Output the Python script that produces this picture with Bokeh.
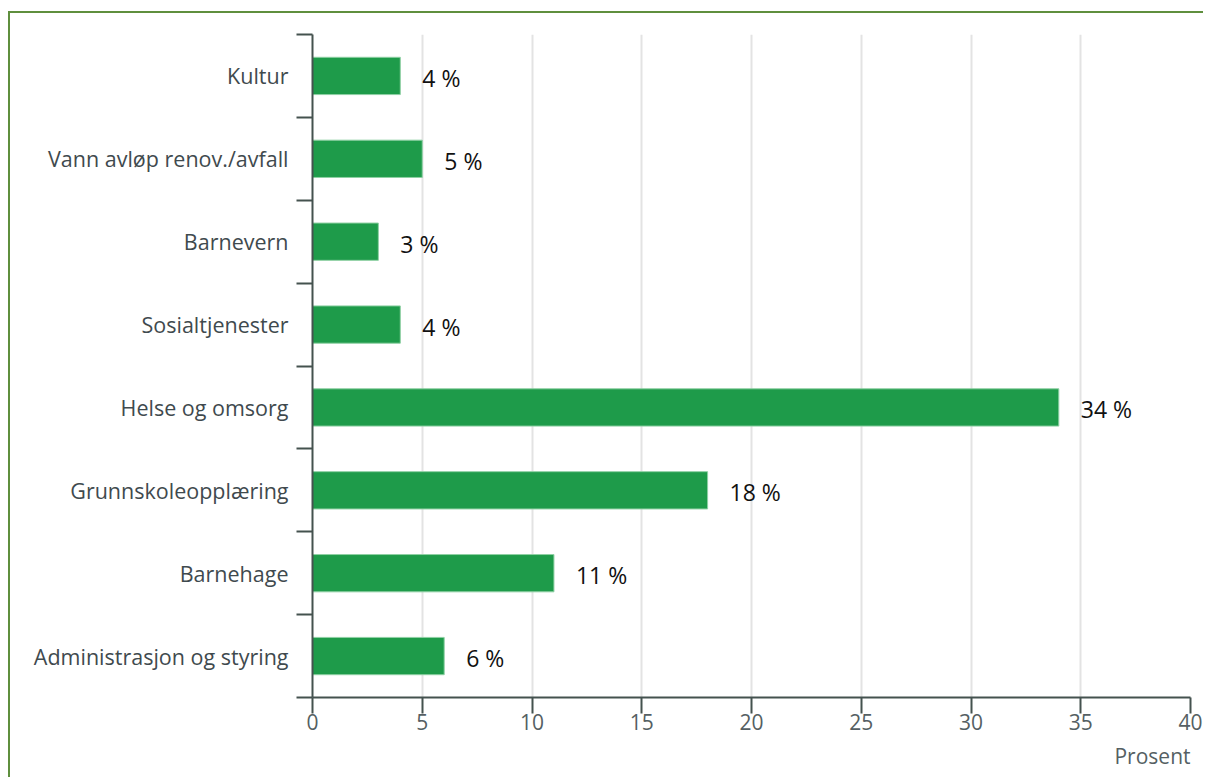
from bokeh.plotting import figure
from bokeh.models import FixedTicker, ColumnDataSource, Title, LabelSet
from bokeh.embed import file_html
from bokeh.resources import INLINE
from bokeh.core.properties import value

categories = ["Kultur", "Vann avløp renov./avfall", "Barnevern", "Sosialtjenester",
              "Helse og omsorg", "Grunnskoleopplæring", "Barnehage", "Administrasjon og styring"]
values = [4, 5, 3, 4, 34, 18, 11, 6]
x_ticks = [0, 5, 10, 15, 20, 25, 30, 35, 40]
x_label = "Prosent"

n = len(categories)
ypos = [n - i - 0.5 for i in range(n)]
labels = [f"{v} %" for v in values]
src = ColumnDataSource(dict(y=ypos, v=values, lab=labels))

FONT = "Open Sans"
AXIS_COLOR = "#44524f"
TICK_COLOR = "#555f63"

p = figure(width=1195, height=766, output_backend="svg", toolbar_location=None,
           x_range=(0, 40), y_range=(0, n),
           min_border_left=302, min_border_right=15, min_border_top=21, min_border_bottom=82,
           styles={"border-top": "2px solid #5f8f3e", "border-left": "2px solid #5f8f3e",
                   "margin-left": "8px", "margin-top": "11px"})
p.outline_line_color = None
p.background_fill_color = "white"
p.border_fill_color = "white"

p.hbar(y="y", right="v", left=0, height=0.45, source=src,
       fill_color="#1e9b4a", line_color="#8fd0a4", line_width=1)

p.add_layout(LabelSet(x="v", y="y", text="lab", source=src, x_offset=22, y_offset=-2,
                      text_baseline="middle", text_align="left",
                      text_font=value(FONT), text_font_size="23px", text_color="#111111"))

# x axis
xa = p.xaxis[0]
xa.ticker = FixedTicker(ticks=x_ticks)
xa.major_tick_out = 16
xa.major_tick_in = 0
xa.minor_tick_out = 0
xa.axis_line_color = AXIS_COLOR
xa.axis_line_width = 2
xa.major_tick_line_color = AXIS_COLOR
xa.major_tick_line_width = 2
xa.major_label_text_font = FONT
xa.major_label_text_font_size = "21px"
xa.major_label_text_color = TICK_COLOR
xa.major_label_standoff = 0

# y axis: labels at category centres, tick marks at boundaries
ya = p.yaxis[0]
ya.ticker = FixedTicker(ticks=ypos, minor_ticks=list(range(n + 1)))
ya.major_label_overrides = {y: c for y, c in zip(ypos, categories)}
ya.major_tick_out = 0
ya.major_tick_in = 0
ya.minor_tick_out = 16
ya.minor_tick_in = 0
ya.minor_tick_line_color = AXIS_COLOR
ya.minor_tick_line_width = 2
ya.axis_line_color = AXIS_COLOR
ya.axis_line_width = 2
ya.major_label_text_font = FONT
ya.major_label_text_font_size = "21.5px"
ya.major_label_text_color = "#3f4a4e"
ya.major_label_standoff = 8

p.xgrid.ticker = FixedTicker(ticks=x_ticks)
p.xgrid.grid_line_color = "#e3e3e3"
p.xgrid.grid_line_width = 2
p.ygrid.grid_line_color = None

p.add_layout(Title(text=x_label, align="right", text_font=FONT, text_font_size="21px",
                   text_font_style="normal", text_color=TICK_COLOR, standoff=15), "below")

open("out.html", "w").write(file_html(p, INLINE))
